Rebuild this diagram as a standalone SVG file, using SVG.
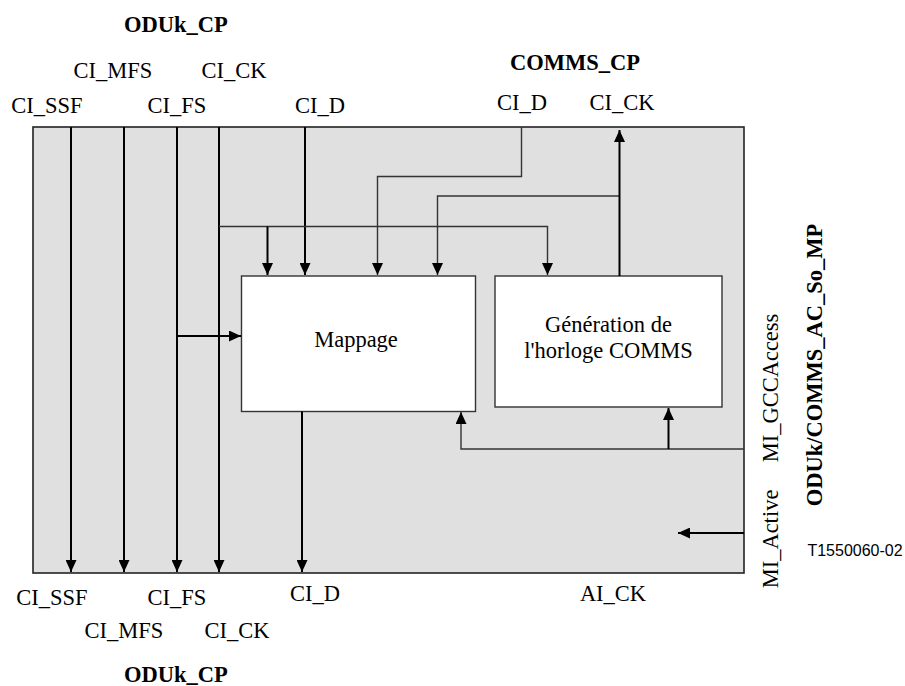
<svg xmlns="http://www.w3.org/2000/svg" width="905" height="686" viewBox="0 0 905 686">
<style>
.t{font-family:"Liberation Serif","Times New Roman",serif;font-size:22.5px;fill:#000;text-anchor:middle}
.b{font-weight:bold}
.thick{stroke:#000;stroke-width:2;fill:none}
.thin{stroke:#333;stroke-width:1.4;fill:none}
.box{fill:#fff;stroke:#333;stroke-width:1.4}
</style>
<defs>
<marker id="ah" viewBox="0 0 12 11" refX="12" refY="5.5" markerUnits="userSpaceOnUse" markerWidth="12" markerHeight="11" orient="auto">
<path d="M0,0 L12,5.5 L0,11 z" fill="#000"/>
</marker>
</defs>
<rect width="905" height="686" fill="#fff"/>
<g id="frame">
<rect x="33" y="127" width="711" height="446" fill="#e0e0e0" stroke="#222" stroke-width="1.6"/>
</g>
<g id="mappage">
<rect class="box" x="241.5" y="276" width="234" height="135.5"/>
<text class="t" x="356" y="347">Mappage</text>
</g>
<g id="generation">
<rect class="box" x="495" y="276" width="227" height="131"/>
<text class="t" x="608.5" y="332">Génération de</text>
<text class="t" x="608.5" y="358">l'horloge COMMS</text>
</g>
<g id="connectors">
<line class="thick" x1="71" y1="127" x2="71" y2="572" marker-end="url(#ah)"/>
<line class="thick" x1="124" y1="127" x2="124" y2="572" marker-end="url(#ah)"/>
<line class="thick" x1="177" y1="127" x2="177" y2="572" marker-end="url(#ah)"/>
<line class="thick" x1="219" y1="127" x2="219" y2="572" marker-end="url(#ah)"/>
<line class="thick" x1="305" y1="127" x2="305" y2="275" marker-end="url(#ah)"/>
<line class="thick" x1="302" y1="411.5" x2="302" y2="572" marker-end="url(#ah)"/>
<line class="thick" x1="177" y1="336" x2="241" y2="336" marker-end="url(#ah)"/>
<path class="thin" d="M219,226.5 H547.5 V275" marker-end="url(#ah)"/>
<line class="thick" x1="267.5" y1="226.5" x2="267.5" y2="275" marker-end="url(#ah)"/>
<path class="thin" d="M521.5,127 V176.5 H377.5 V275" marker-end="url(#ah)"/>
<path class="thin" d="M619.5,196 H437.5 V275" marker-end="url(#ah)"/>
<line class="thick" x1="619.5" y1="276" x2="619.5" y2="130" marker-end="url(#ah)"/>
<path class="thin" d="M744,449 H461 V412" marker-end="url(#ah)"/>
<line class="thick" x1="668.5" y1="449" x2="668.5" y2="408" marker-end="url(#ah)"/>
<line class="thick" x1="744" y1="533" x2="678" y2="533" marker-end="url(#ah)"/>
</g>
<g id="labels">
<text class="t b" x="176" y="32">ODUk_CP</text>
<text class="t" x="113" y="78">CI_MFS</text>
<text class="t" x="234" y="78">CI_CK</text>
<text class="t" x="47" y="113">CI_SSF</text>
<text class="t" x="177" y="113">CI_FS</text>
<text class="t" x="320" y="113">CI_D</text>
<text class="t b" x="575" y="70">COMMS_CP</text>
<text class="t" x="522" y="110">CI_D</text>
<text class="t" x="622" y="110">CI_CK</text>
<text class="t" x="52" y="605">CI_SSF</text>
<text class="t" x="177" y="605">CI_FS</text>
<text class="t" x="315" y="601">CI_D</text>
<text class="t" x="613" y="601">AI_CK</text>
<text class="t" x="124" y="638">CI_MFS</text>
<text class="t" x="237" y="638">CI_CK</text>
<text class="t b" x="176" y="682">ODUk_CP</text>
<text class="t" transform="translate(778,388) rotate(-90)">MI_GCCAccess</text>
<text class="t" transform="translate(778,539) rotate(-90)">MI_Active</text>
<text class="t b" transform="translate(822,365) rotate(-90)">ODUk/COMMS_AC_So_MP</text>
<text x="855" y="556" style="font-family:'Liberation Sans',Arial,sans-serif;font-size:16px;text-anchor:middle">T1550060-02</text>
</g>
</svg>
